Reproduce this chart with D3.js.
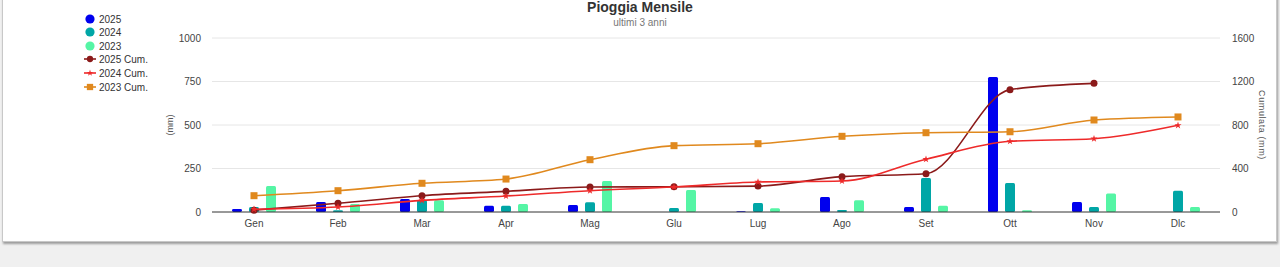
<!DOCTYPE html>
<html><head><meta charset="utf-8">
<script src="https://cdn.jsdelivr.net/npm/d3@7"></script>
<style>
html,body{margin:0;padding:0;background:#f0f0f0;width:1280px;height:267px;overflow:hidden;font-family:"Liberation Sans",Arial,sans-serif;}
#card{position:absolute;left:2px;top:-4px;width:1273px;height:244px;background:#fff;border:1px solid #c8c8c8;box-shadow:1px 2px 2px rgba(0,0,0,0.35);}
svg{position:absolute;left:0;top:0;}
</style></head><body>
<div id="card"></div>
<svg id="chart" width="1280" height="267"></svg>
<script>
const months = ["Gen","Feb","Mar","Apr","Mag","Giu","Lug","Ago","Set","Ott","Nov","Dic"];
const monthLabels = ["Gen","Feb","Mar","Apr","Mag","Glu","Lug","Ago","Set","Ott","Nov","Dlc"];
const rain2025 = [17, 57, 75, 36, 40, 0, 5, 86, 29, 776, 57, null];
const rain2024 = [29, 10, 69, 36, 56, 23, 52, 12, 195, 167, 29, 122];
const rain2023 = [150, 46, 67, 46, 178, 126, 21, 67, 36, 10, 107, 29];
const cum2025 = [17, 80, 150, 190, 230, 232, 238, 325, 352, 1125, 1183, null];
const cum2024 = [25, 46, 107, 147, 196, 230, 276, 285, 485, 650, 674, 797];
const cum2023 = [150, 196, 264, 303, 481, 610, 628, 696, 729, 738, 846, 874];
const leftTicks = [0, 250, 500, 750, 1000];
const rightTicks = [0, 400, 800, 1200, 1600];
const barSeries = [
  {name:"2025", values:rain2025, color:"#0000ee"},
  {name:"2024", values:rain2024, color:"#00a6a6"},
  {name:"2023", values:rain2023, color:"#55f5a5"}
];
const lineSeries = [
  {name:"2025 Cum.", values:cum2025, color:"#8b1a1a", marker:"circle"},
  {name:"2024 Cum.", values:cum2024, color:"#ee2a2a", marker:"star"},
  {name:"2023 Cum.", values:cum2023, color:"#e0891e", marker:"square"}
];

const svg = d3.select("#chart");
const L = 212, R = 1220, T = 38, B = 212;
const x = d3.scaleBand().domain(months).range([L, R]);
const xs = d3.scaleBand().domain(barSeries.map(d=>d.name)).range([-22, 22]).paddingInner(0.412);
const yL = d3.scaleLinear().domain([0, 1000]).range([B, T]);
const yR = d3.scaleLinear().domain([0, 1600]).range([B, T]);
const fmt = d3.format("d");

// grid
svg.append("g").selectAll("line").data(leftTicks.slice(1)).join("line")
  .attr("x1", L).attr("x2", R).attr("y1", d=>yL(d)).attr("y2", d=>yL(d))
  .attr("stroke", "#e6e6e6").attr("stroke-width", 1);

// left axis
const axL = svg.append("g").attr("transform", `translate(${L},0)`)
  .call(d3.axisLeft(yL).tickValues(leftTicks).tickFormat(fmt).tickSize(0).tickPadding(11));
axL.select(".domain").remove();
axL.selectAll("text").attr("font-size", 10).attr("fill", "#444").attr("font-family", "Liberation Sans, Arial");

// right axis
const axR = svg.append("g").attr("transform", `translate(${R},0)`)
  .call(d3.axisRight(yR).tickValues(rightTicks).tickFormat(fmt).tickSize(0).tickPadding(12));
axR.select(".domain").remove();
axR.selectAll("text").attr("font-size", 10).attr("fill", "#444").attr("font-family", "Liberation Sans, Arial");

// x axis
const axX = svg.append("g").attr("transform", `translate(0,${B})`)
  .call(d3.axisBottom(x).tickSize(0).tickPadding(8).tickFormat((d,i)=>monthLabels[i]));
axX.select(".domain").remove();
axX.selectAll("text").attr("font-size", 10).attr("fill", "#444").attr("font-family", "Liberation Sans, Arial");

// axis titles
svg.append("text").attr("transform", `translate(173,125) rotate(-90)`).attr("text-anchor","middle")
  .attr("font-size", 9).attr("fill", "#555").text("(mm)");
svg.append("text").attr("transform", `translate(1259,125) rotate(90)`).attr("text-anchor","middle")
  .attr("font-size", 9).attr("fill", "#555").attr("letter-spacing", 0.6).text("Cumulata (mm)");

// bars
barSeries.forEach(s => {
  svg.append("g").selectAll("rect").data(s.values.map((v,i)=>({m:months[i], v})).filter(d=>d.v!=null && d.v>0))
    .join("rect")
    .attr("x", d => x(d.m) + x.bandwidth()/2 + xs(s.name))
    .attr("width", xs.bandwidth())
    .attr("y", d => yL(d.v))
    .attr("height", d => B - yL(d.v))
    .attr("rx", 1.5)
    .attr("fill", s.color);
});

// baseline
svg.append("line").attr("x1", L).attr("x2", R).attr("y1", B).attr("y2", B)
  .attr("stroke", "#333").attr("stroke-width", 1);

function drawMarker(g, type, cx, cy, color, scale) {
  scale = scale || 1;
  if (type === "circle") {
    g.append("circle").attr("cx", cx).attr("cy", cy).attr("r", 3.5*scale).attr("fill", color);
  } else if (type === "square") {
    const s = 7*scale;
    g.append("rect").attr("x", cx - s/2).attr("y", cy - s/2).attr("width", s).attr("height", s).attr("fill", color);
  } else {
    const sym = d3.symbol().type(d3.symbolStar).size(16*scale*scale);
    g.append("path").attr("d", sym()).attr("transform", `translate(${cx},${cy})`).attr("fill", color);
  }
}

// lines
const cx = m => x(m) + x.bandwidth()/2;
lineSeries.forEach(s => {
  const pts = s.values.map((v,i)=>({m:months[i], v})).filter(d=>d.v!=null);
  const line = d3.line().x(d=>cx(d.m)).y(d=>yR(d.v)).curve(d3.curveMonotoneX);
  svg.append("path").datum(pts).attr("d", line).attr("fill","none")
    .attr("stroke", s.color).attr("stroke-width", 1.6);
  const g = svg.append("g");
  pts.forEach(p => drawMarker(g, s.marker, cx(p.m), yR(p.v), s.color));
});

// title
svg.append("text").attr("x", 640).attr("y", 12).attr("text-anchor","middle")
  .attr("font-size", 14).attr("font-weight","bold").attr("fill","#333").text("Pioggia Mensile");
svg.append("text").attr("x", 640).attr("y", 26).attr("text-anchor","middle")
  .attr("font-size", 10).attr("fill","#777").text("ultimi 3 anni");

// legend
const leg = svg.append("g");
const legY = [19, 32, 46, 59, 73, 87];
barSeries.forEach((s,i) => {
  leg.append("circle").attr("cx", 90).attr("cy", legY[i]).attr("r", 4.6).attr("fill", s.color);
  leg.append("text").attr("x", 99).attr("y", legY[i]+3.5).attr("font-size", 10).attr("fill","#333").text(s.name);
});
lineSeries.forEach((s,i) => {
  const yy = legY[i+3];
  leg.append("line").attr("x1", 84).attr("x2", 96).attr("y1", yy).attr("y2", yy).attr("stroke", s.color).attr("stroke-width", 1.6);
  drawMarker(leg, s.marker, 90, yy, s.color, 0.9);
  leg.append("text").attr("x", 99).attr("y", yy+3.5).attr("font-size", 10).attr("fill","#333").text(s.name);
});
</script>
</body></html>
